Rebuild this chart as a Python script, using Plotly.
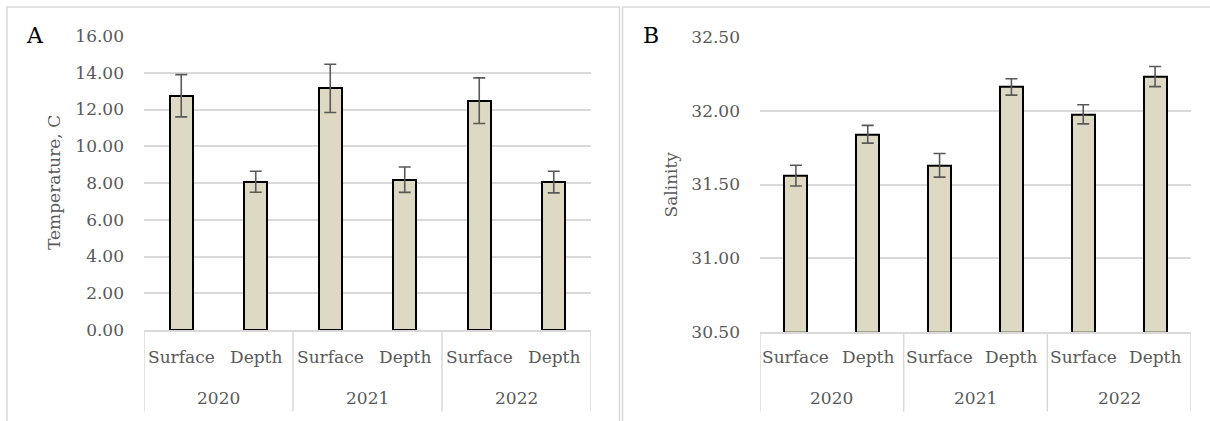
import plotly.graph_objects as go

# Sampling groups and layers
years = ["2020", "2021", "2022"]
layers = ["Surface", "Depth"]

# Panel A: water temperature (mean and error)
temp_mean = [12.75, 8.07, 13.15, 8.18, 12.48, 8.05]
temp_err = [1.15, 0.57, 1.31, 0.69, 1.24, 0.59]

# Panel B: salinity (mean and error)
sal_mean = [31.56, 31.84, 31.63, 32.16, 31.975, 32.23]
sal_err = [0.07, 0.06, 0.08, 0.055, 0.065, 0.068]

temp_ticks = [0, 2, 4, 6, 8, 10, 12, 14, 16]
sal_ticks = [30.5, 31.0, 31.5, 32.0, 32.5]

W, H = 1210, 421
FONT = "DejaVu Serif"
GREY = "#595959"
GRID = "#d9d9d9"
BAR = "#ddd9c3"

labels = [f"{y} {l}" for y in years for l in layers]
xpos = list(range(len(labels)))


def px_x(v):
    return v / W


def px_y(v):
    return 1 - v / H


fig = go.Figure()

panels = [
    dict(mean=temp_mean, err=temp_err, left=144, right=591,
         top=36, bottom=330, ticks=temp_ticks, rng=[0, 16],
         title="Temperature, C", tag="A", tagx=35, titlex=54, width=0.31),
    dict(mean=sal_mean, err=sal_err, left=760, right=1191,
         top=36.7, bottom=332.3, ticks=sal_ticks, rng=[30.5, 32.5],
         title="Salinity", tag="B", tagx=651, titlex=670, width=0.32),
]

shapes = []
annotations = []

for i, p in enumerate(panels):
    suffix = "" if i == 0 else "2"
    xr, yr_ = "x" + suffix, "y" + suffix
    fig.add_trace(go.Bar(
        x=xpos, y=[m - p["rng"][0] for m in p["mean"]],
        base=p["rng"][0],
        width=p["width"],
        marker=dict(color=BAR, line=dict(color="black", width=2)),
        error_y=dict(type="data", array=p["err"], color=GREY, thickness=1.6, width=6),
        xaxis=xr, yaxis=yr_, showlegend=False, hoverinfo="skip",
    ))
    xd = [px_x(p["left"]), px_x(p["right"])]
    yd = [px_y(p["bottom"]), px_y(p["top"])]
    fig.layout["xaxis" + suffix] = dict(
        domain=xd, range=[-0.5, len(labels) - 0.5], showticklabels=False,
        showgrid=False, zeroline=False, showline=True, linecolor=GRID, linewidth=1.5,
        anchor=yr_, fixedrange=True, automargin=False,
    )
    fig.layout["yaxis" + suffix] = dict(
        domain=yd, range=p["rng"], tickvals=p["ticks"],
        ticktext=[f"{t:.2f}" for t in p["ticks"]],
        showgrid=True, gridcolor=GRID, gridwidth=1.5, zeroline=False,
        showline=False, ticks="", ticklabelstandoff=19,
        tickfont=dict(family=FONT, size=17, color=GREY),
        anchor=xr, fixedrange=True, automargin=False,
    )

    # category labels (inner row) and year labels (outer row)
    for k, lab in enumerate(labels):
        annotations.append(dict(
            x=xpos[k], y=px_y(357), xref=xr, yref="paper", text=lab.split(" ")[1],
            showarrow=False, font=dict(family=FONT, size=17, color=GREY),
            xanchor="center", yanchor="middle"))
    for g, yr in enumerate(years):
        annotations.append(dict(
            x=g * len(layers) + (len(layers) - 1) / 2, y=px_y(398), xref=xr, yref="paper",
            text=yr, showarrow=False, font=dict(family=FONT, size=17, color=GREY),
            xanchor="center", yanchor="middle"))
    # group dividers under the axis
    for g in range(len(years) + 1):
        gx = g * len(layers) - 0.5
        shapes.append(dict(type="line", xref=xr, yref="paper",
                           x0=gx, x1=gx, y0=px_y(p["bottom"]), y1=px_y(411.5),
                           line=dict(color=GRID, width=1.5)))
    # panel letter and axis title
    annotations.append(dict(
        x=px_x(p["tagx"]), y=px_y(36), xref="paper", yref="paper", text=p["tag"],
        showarrow=False, font=dict(family=FONT, size=22, color="black"),
        xanchor="center", yanchor="middle"))
    annotations.append(dict(
        x=px_x(p["titlex"]), y=(yd[0] + yd[1]) / 2, xref="paper", yref="paper",
        text=p["title"], textangle=-90, showarrow=False,
        font=dict(family=FONT, size=17, color=GREY),
        xanchor="center", yanchor="middle"))

# chart-area frames
shapes.append(dict(type="rect", xref="paper", yref="paper",
                   x0=px_x(7), x1=px_x(619.5), y0=px_y(430), y1=px_y(7),
                   line=dict(color=GRID, width=1.5)))
shapes.append(dict(type="rect", xref="paper", yref="paper",
                   x0=px_x(622.5), x1=px_x(1215), y0=px_y(430), y1=px_y(7),
                   line=dict(color=GRID, width=1.5)))

fig.update_layout(
    width=W, height=H,
    margin=dict(l=0, r=0, t=0, b=0, pad=0, autoexpand=False),
    paper_bgcolor="white", plot_bgcolor="white",
    shapes=shapes, annotations=annotations, bargap=0,
    font=dict(family=FONT, color=GREY),
)

fig.write_html("out.html", config={"displayModeBar": False})
